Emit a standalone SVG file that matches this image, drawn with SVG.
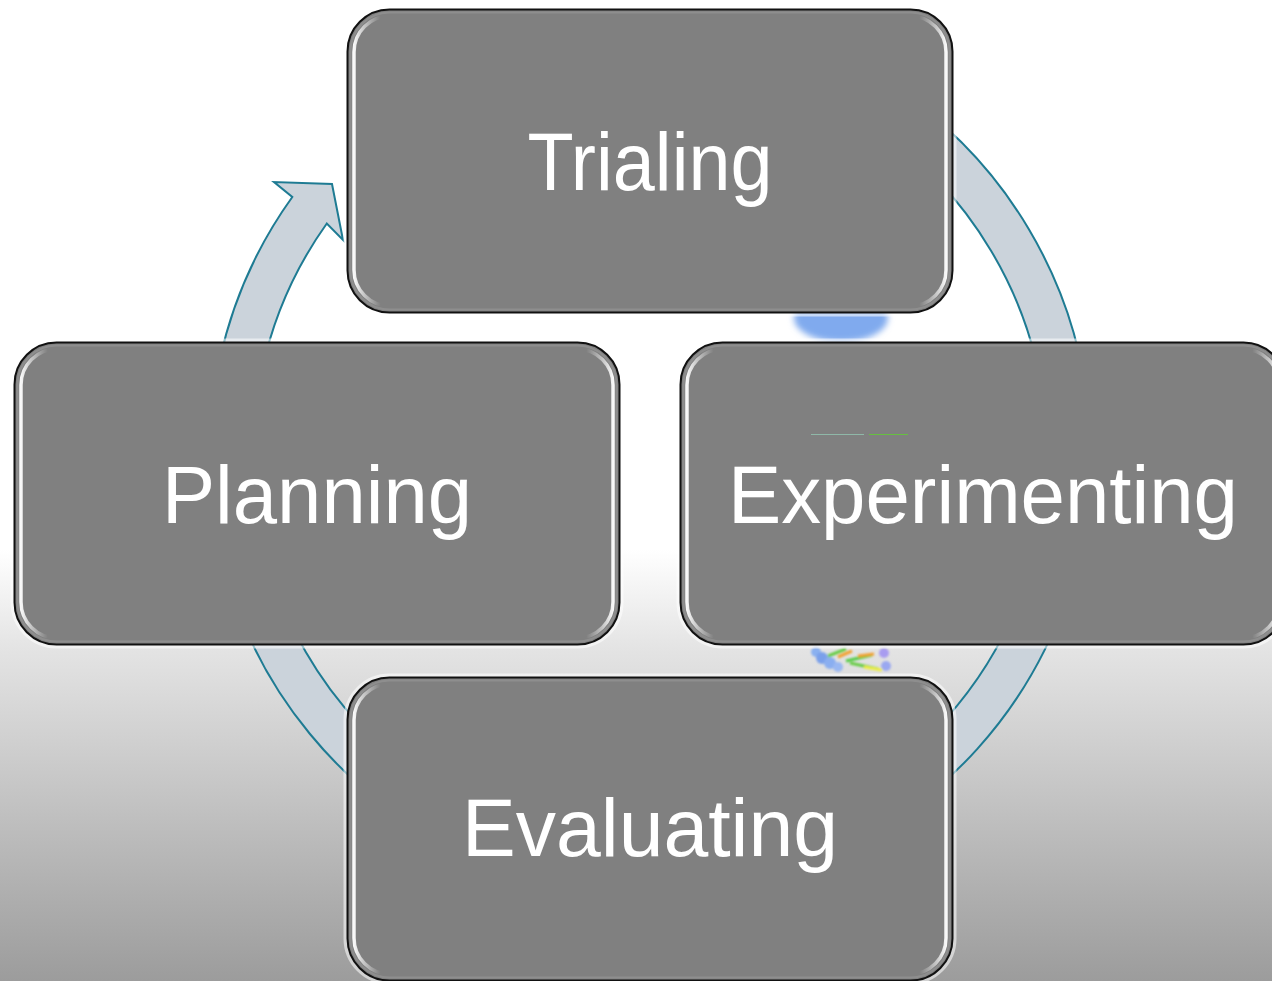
<svg xmlns="http://www.w3.org/2000/svg" width="1272" height="981" viewBox="0 0 1272 981">
  <defs>
    <linearGradient id="bg" x1="0" y1="0" x2="0" y2="981" gradientUnits="userSpaceOnUse">
      <stop offset="0" stop-color="#ffffff"/>
      <stop offset="0.56" stop-color="#ffffff"/>
      <stop offset="0.66" stop-color="#e4e4e4"/>
      <stop offset="1" stop-color="#9c9c9c"/>
    </linearGradient>
    <linearGradient id="bevel" x1="0" y1="0" x2="1" y2="0">
      <stop offset="0" stop-color="#ffffff" stop-opacity="0.95"/>
      <stop offset="0.015" stop-color="#ffffff" stop-opacity="0.6"/>
      <stop offset="0.045" stop-color="#ffffff" stop-opacity="0"/>
      <stop offset="0.955" stop-color="#ffffff" stop-opacity="0"/>
      <stop offset="0.985" stop-color="#ffffff" stop-opacity="0.6"/>
      <stop offset="1" stop-color="#ffffff" stop-opacity="0.95"/>
    </linearGradient>
    <filter id="blur3" x="-30%" y="-30%" width="160%" height="160%">
      <feGaussianBlur stdDeviation="3"/>
    </filter>
    <filter id="blur1" x="-20%" y="-20%" width="140%" height="140%">
      <feGaussianBlur stdDeviation="0.9"/>
    </filter>
    <style>
      .halo { fill: none; stroke: #ffffff; stroke-width: 8; stroke-opacity: 0.55; }
      .box { fill: #808080; stroke: #111111; stroke-width: 2; }
      .shade { fill: none; stroke: #8e8e8e; stroke-width: 2; }
      .bev { fill: none; stroke: url(#bevel); stroke-width: 3.5; }
      .lbl { font-family: "Liberation Sans", "Noto Sans", Arial, sans-serif; font-size: 81px; fill: #ffffff; text-anchor: middle; }
      .ring { fill: #cbd3db; stroke: #1e7b93; stroke-width: 2; stroke-linejoin: miter; }
    </style>
  </defs>

  <rect x="0" y="0" width="1272" height="981" fill="url(#bg)"/>

  <g id="decor">
    <ellipse cx="841" cy="318" rx="47" ry="24" fill="#80aaee" filter="url(#blur3)"/>
    <g filter="url(#blur1)">
      <circle cx="816" cy="652" r="5" fill="#8ab0f0"/>
      <circle cx="822" cy="658" r="6" fill="#7aa0ea"/>
      <circle cx="830" cy="663" r="6" fill="#8aaef0"/>
      <circle cx="838" cy="667" r="5" fill="#9ab8f2"/>
      <circle cx="884" cy="653" r="5" fill="#a89cf0"/>
      <circle cx="886" cy="666" r="5" fill="#9aa8f0"/>
      <line x1="828" y1="656" x2="846" y2="649" stroke="#66cc44" stroke-width="3"/>
      <line x1="838" y1="657" x2="852" y2="651" stroke="#f2a030" stroke-width="3"/>
      <line x1="846" y1="661" x2="872" y2="655" stroke="#55cc44" stroke-width="3"/>
      <line x1="858" y1="656" x2="874" y2="654" stroke="#f2a030" stroke-width="3"/>
      <line x1="850" y1="663" x2="878" y2="669" stroke="#66cc44" stroke-width="3"/>
      <line x1="864" y1="667" x2="882" y2="670" stroke="#eeee44" stroke-width="3"/>
    </g>
  </g>

  <g id="connectors">
    <path class="ring" d="M 726.5 20.2 A 440.5 440.5 0 1 1 292.3 197 L 274 182 L 332 184 L 343 240 L 326.8 223.5 A 397 397 0 1 0 718.9 63 Z"/>
  </g>

  <g id="trialing">
    <rect class="halo" x="347.5" y="9.5" width="605" height="303" rx="42"/>
    <rect class="box" x="347.5" y="9.5" width="605" height="303" rx="42"/>
    <rect class="shade" x="350.5" y="12.5" width="599" height="297" rx="39"/>
    <rect class="bev" x="354" y="16" width="592" height="290" rx="36"/>
    <text class="lbl" x="650" y="190" textLength="245" lengthAdjust="spacingAndGlyphs">Trialing</text>
  </g>

  <g id="planning">
    <rect class="halo" x="14.5" y="342.5" width="605" height="302" rx="42"/>
    <rect class="box" x="14.5" y="342.5" width="605" height="302" rx="42"/>
    <rect class="shade" x="17.5" y="345.5" width="599" height="296" rx="39"/>
    <rect class="bev" x="21" y="349" width="592" height="289" rx="36"/>
    <text class="lbl" x="317" y="523" textLength="310" lengthAdjust="spacingAndGlyphs">Planning</text>
  </g>

  <g id="experimenting">
    <rect class="halo" x="680.5" y="342.5" width="605" height="302" rx="42"/>
    <rect class="box" x="680.5" y="342.5" width="605" height="302" rx="42"/>
    <rect class="shade" x="683.5" y="345.5" width="599" height="296" rx="39"/>
    <rect class="bev" x="687" y="349" width="592" height="289" rx="36"/>
    <line x1="811" y1="434.5" x2="864" y2="434.5" stroke="#8fb8a8" stroke-width="1"/>
    <line x1="869" y1="434.5" x2="908" y2="434.5" stroke="#66c040" stroke-width="1"/>
    <text class="lbl" x="983" y="523" textLength="510" lengthAdjust="spacingAndGlyphs">Experimenting</text>
  </g>

  <g id="evaluating">
    <rect class="halo" x="347.5" y="677.5" width="605" height="303" rx="42"/>
    <rect class="box" x="347.5" y="677.5" width="605" height="303" rx="42"/>
    <rect class="shade" x="350.5" y="680.5" width="599" height="297" rx="39"/>
    <rect class="bev" x="354" y="684" width="592" height="290" rx="36"/>
    <text class="lbl" x="650" y="856" textLength="376" lengthAdjust="spacingAndGlyphs">Evaluating</text>
  </g>
</svg>
